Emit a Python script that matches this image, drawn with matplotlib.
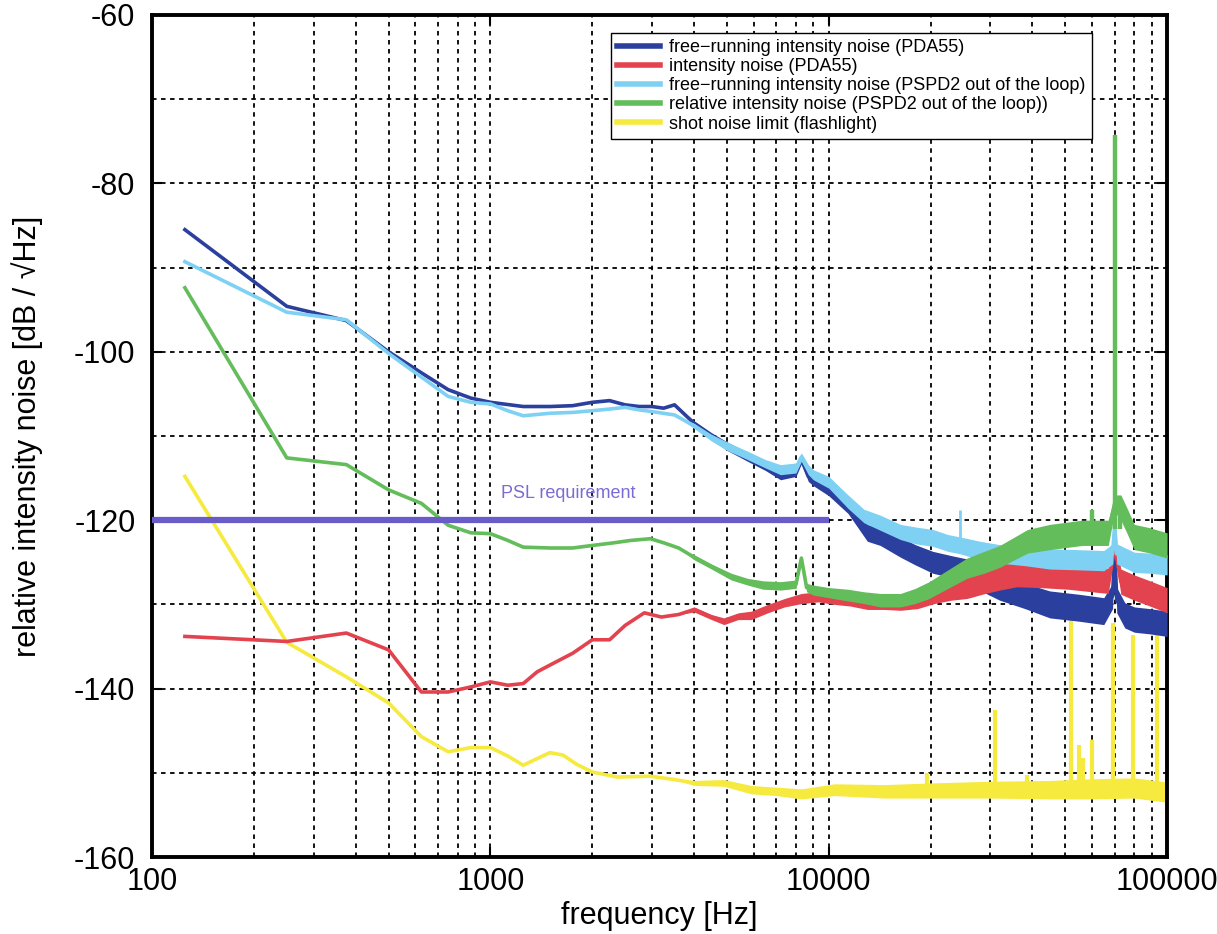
import numpy as np
import matplotlib.pyplot as plt

plt.rcParams['font.family'] = ['Liberation Sans', 'DejaVu Sans']
plt.rcParams['axes.unicode_minus'] = False

# ------------------------------
# spectra: frequency [Hz], level [dB/rtHz], half-width of the noise band [dB]
# ------------------------------
f_pda_free = [125, 250, 375, 500, 625, 750, 875, 1000, 1250, 1500, 1750, 2000, 2250, 2500, 2750,
              3000, 3250, 3500, 4000, 4500, 5000, 5750, 6500, 7200, 8000, 8300, 8700, 9000,
              10000, 11400, 13000, 14200, 16300, 18000, 20300, 23000, 25600, 28800, 32000,
              38000, 45000, 55000, 65000, 69000, 70000, 71000, 75000, 80000, 89000, 100000]
y_pda_free = [-85.5, -94.6, -96.3, -100.0, -102.5, -104.5, -105.5, -106.0, -106.5, -106.5, -106.4,
              -106.0, -105.8, -106.3, -106.5, -106.5, -106.7, -106.3, -108.5, -110.0, -111.2,
              -112.5, -113.5, -114.6, -114.2, -112.8, -114.8, -115.2, -116.3, -118.3, -121.5,
              -122.0, -123.2, -124.1, -125.0, -125.5, -126.0, -127.2, -128.0, -129.0, -130.0,
              -130.4, -130.8, -129.0, -123.5, -129.5, -131.3, -131.8, -132.0, -132.3]
w_pda_free = [0, 0, 0, 0, 0, 0, 0, 0, 0, 0, 0, 0, 0, 0, 0, 0, 0, 0, 0.3, 0.4, 0.5, 0.5, 0.6, 0.6,
              0.6, 0.5, 0.6, 0.7, 0.8, 0.9, 1.0, 1.0, 1.2, 1.2, 1.3, 1.3, 1.4, 1.4, 1.5, 1.5, 1.6,
              1.6, 1.6, 1.5, 0.5, 1.5, 1.5, 1.5, 1.5, 1.5]

f_pda_loop = [125, 250, 375, 500, 625, 750, 875, 1000, 1125, 1250, 1375, 1500, 1750, 2000, 2250,
              2500, 2850, 3200, 3600, 4000, 4500, 4900, 5400, 5900, 6600, 7400, 8300, 9300, 10400,
              11600, 13000, 14600, 16300, 18300, 20500, 23000, 25600, 29000, 32000, 36000, 42000,
              51000, 60000, 67000, 70000, 73000, 80000, 89000, 100000]
y_pda_loop = [-133.8, -134.4, -133.4, -135.4, -140.4, -140.4, -139.8, -139.2, -139.6, -139.4,
              -138.0, -137.2, -135.8, -134.2, -134.2, -132.5, -131.0, -131.5, -131.2, -130.6,
              -131.5, -132.0, -131.4, -131.3, -130.5, -129.8, -129.3, -129.1, -129.4, -129.5,
              -129.8, -129.8, -129.8, -129.5, -128.8, -128.3, -128.0, -127.3, -126.8, -126.4,
              -126.5, -126.7, -127.0, -127.2, -123.0, -127.3, -128.0, -128.7, -129.5]
w_pda_loop = [0, 0, 0, 0, 0, 0, 0, 0, 0, 0, 0, 0, 0, 0, 0, 0, 0, 0, 0, 0.3, 0.3, 0.4, 0.4, 0.5,
              0.5, 0.5, 0.6, 0.6, 0.6, 0.7, 0.8, 0.8, 0.9, 1.0, 1.1, 1.2, 1.3, 1.4, 1.5, 1.5, 1.5,
              1.5, 1.5, 1.5, 1.0, 1.5, 1.5, 1.5, 1.5]

f_pspd_free = [125, 250, 375, 500, 625, 750, 875, 1000, 1125, 1250, 1500, 1750, 2000, 2250, 2500,
               2750, 3000, 3500, 4000, 4500, 5000, 5750, 6500, 7200, 8000, 8300, 8700, 9000, 10000,
               11400, 12700, 14200, 16300, 18000, 20300, 22500, 24500, 28000, 32000, 38000, 45000,
               55000, 65000, 69000, 70000, 71000, 80000, 89000, 100000]
y_pspd_free = [-89.3, -95.3, -96.2, -100.2, -103.0, -105.3, -106.0, -106.2, -107.0, -107.6,
               -107.3, -107.2, -107.0, -106.8, -106.6, -106.9, -107.1, -107.5, -108.8, -110.2,
               -111.2, -112.3, -113.3, -114.0, -113.8, -112.5, -114.0, -114.6, -115.5, -117.8,
               -119.5, -120.3, -121.4, -121.8, -122.1, -122.7, -123.0, -123.6, -124.0, -124.3,
               -124.6, -124.7, -124.8, -124.0, -120.5, -124.0, -125.0, -125.1, -125.3]
w_pspd_free = [0, 0, 0, 0, 0, 0, 0, 0, 0, 0, 0, 0, 0, 0, 0, 0, 0, 0, 0.3, 0.4, 0.5, 0.5, 0.5, 0.6,
               0.6, 0.5, 0.6, 0.6, 0.7, 0.8, 0.8, 0.9, 0.9, 1.0, 1.0, 1.0, 1.0, 1.1, 1.1, 1.1, 1.2,
               1.2, 1.2, 1.2, 0.5, 1.2, 1.2, 1.2, 1.2]

f_pspd_rin = [125, 250, 375, 500, 625, 750, 875, 1000, 1125, 1250, 1500, 1750, 2000, 2300, 2600,
              2970, 3260, 3600, 4000, 4500, 5150, 5750, 6400, 7200, 8000, 8300, 8600, 9000, 10000,
              11400, 12700, 14200, 16300, 18000, 19800, 22500, 25600, 28800, 32000, 38700, 45000,
              56000, 62000, 67000, 70000, 73000, 76000, 80000, 89000, 100000]
y_pspd_rin = [-92.4, -112.6, -113.4, -116.4, -118.0, -120.6, -121.5, -121.6, -122.4, -123.2,
              -123.3, -123.3, -123.0, -122.7, -122.4, -122.2, -122.7, -123.3, -124.4, -125.5,
              -126.7, -127.3, -127.7, -127.8, -127.6, -124.5, -128.0, -128.3, -128.6, -128.9,
              -129.2, -129.5, -129.5, -129.0, -128.3, -127.0, -125.7, -125.0, -124.3, -122.5,
              -122.0, -121.5, -121.5, -121.5, -118.0, -118.5, -120.0, -122.0, -122.4, -123.0]
w_pspd_rin = [0, 0, 0, 0, 0, 0, 0, 0, 0, 0, 0, 0, 0, 0, 0, 0, 0, 0, 0.3, 0.3, 0.4, 0.4, 0.5, 0.5,
              0.5, 0.3, 0.5, 0.6, 0.6, 0.7, 0.7, 0.8, 0.8, 0.9, 1.0, 1.1, 1.2, 1.3, 1.3, 1.4, 1.5,
              1.5, 1.5, 1.5, 1.0, 1.5, 1.5, 1.5, 1.5, 1.5]

f_shot = [125, 250, 375, 500, 625, 750, 875, 1000, 1125, 1250, 1375, 1500, 1640, 1800, 2000, 2370,
          2970, 3500, 4000, 4900, 5900, 7000, 8300, 10400, 14600, 20000, 30000, 45000, 60000,
          80000, 100000]
y_shot = [-114.8, -134.5, -138.6, -141.7, -145.7, -147.5, -147.0, -147.0, -148.0, -149.1, -148.3,
          -147.6, -147.9, -149.0, -149.9, -150.5, -150.4, -150.8, -151.2, -151.2, -152.0, -152.2,
          -152.5, -152.0, -152.2, -152.1, -152.0, -152.0, -151.9, -151.8, -152.3]
w_shot = [0, 0, 0, 0, 0, 0, 0, 0, 0, 0, 0, 0, 0, 0, 0, 0, 0, 0, 0.3, 0.4, 0.5, 0.5, 0.6, 0.7, 0.8,
          0.9, 1.0, 1.1, 1.2, 1.2, 1.2]

# narrow lines: frequency [Hz], peak level [dB/rtHz]
shot_spike_f = [19500, 31000, 38600, 52000, 55000, 56500, 60000, 69000, 79500, 93500]
shot_spike_y = [-150.0, -142.5, -150.3, -131.3, -146.7, -148.2, -146.1, -132.2, -133.6, -133.4]
rin_spike_f = [60000, 70000, 72500]
rin_spike_y = [-118.8, -74.3, -117.5]
free_spike_f = [24500]
free_spike_y = [-118.8]

psl_f = [100, 10000]
psl_y = [-120, -120]

labels = ['free\u2212running intensity noise (PDA55)',
          'intensity noise (PDA55)',
          'free\u2212running intensity noise (PSPD2 out of the loop)',
          'relative intensity noise (PSPD2 out of the loop))',
          'shot noise limit (flashlight)']
colors = ['#2b3f9e', '#e2434f', '#7fd1f4', '#63bd5a', '#f6ea3f']


def draw_band(ax, f, y, w, color, label, z):
    f = np.array(f, dtype=float)
    y = np.array(y, dtype=float)
    w = np.array(w, dtype=float)
    ax.fill_between(f, y - w, y + w, color=color, lw=0, zorder=z)
    line, = ax.plot(f, y, color=color, lw=2.6, label=label, zorder=z)
    return line


fig = plt.figure(figsize=(12.17, 9.34), dpi=100)
ax = fig.add_axes([0.125, 0.0824, 0.834, 0.9016])

ax.plot(psl_f, psl_y, color='#6a5cc8', lw=4.5, zorder=6, solid_capstyle='butt')
ax.text(1700, -116.8, 'PSL requirement', color='#7a6cd6', fontsize=13, ha='center', va='center')

h = []
ax.vlines(shot_spike_f, -152, shot_spike_y, color=colors[4], lw=3.0, zorder=2)
h_shot = draw_band(ax, f_shot, y_shot, w_shot, colors[4], labels[4], 2)
h.append(draw_band(ax, f_pda_free, y_pda_free, w_pda_free, colors[0], labels[0], 3))
h.append(draw_band(ax, f_pda_loop, y_pda_loop, w_pda_loop, colors[1], labels[1], 3.5))
ax.vlines(free_spike_f, -123, free_spike_y, color=colors[2], lw=2.0, zorder=4)
h.append(draw_band(ax, f_pspd_free, y_pspd_free, w_pspd_free, colors[2], labels[2], 4))
ax.vlines(rin_spike_f, -121, rin_spike_y, color=colors[3], lw=3.2, zorder=5)
h.append(draw_band(ax, f_pspd_rin, y_pspd_rin, w_pspd_rin, colors[3], labels[3], 5))
h.append(h_shot)

ax.set_xscale('log')
ax.set_xlim(100, 100000)
ax.set_ylim(-160, -60)
ax.set_xticks([100, 1000, 10000, 100000])
ax.set_xticklabels(['100', '1000', '10000', '100000'])
ax.set_yticks(np.arange(-160, -59, 20))
ax.set_yticks(np.arange(-150, -60, 10), minor=True)
ax.tick_params(axis='both', which='major', direction='in', length=7, width=1.5,
               labelsize=22, top=True, right=True)
ax.tick_params(axis='x', which='major', pad=7)
ax.tick_params(axis='y', which='major', pad=12)
ax.tick_params(axis='both', which='minor', length=0)
ax.grid(True, which='both', color='black', linestyle=(0, (2.5, 2.5)), lw=1.3)
ax.set_axisbelow(True)
for s in ax.spines.values():
    s.set_linewidth(2.8)

ax.set_xlabel('frequency [Hz]', fontsize=22, labelpad=3)
ax.set_ylabel('relative intensity noise [dB / \u221aHz]', fontsize=22, labelpad=22)

leg = ax.legend(handles=h, loc='upper right', bbox_to_anchor=(0.926, 0.979), fontsize=13,
                handlelength=2.4, labelspacing=0.12, borderpad=0.35, handletextpad=0.5,
                borderaxespad=0, fancybox=False, framealpha=1, edgecolor='black')
leg.get_frame().set_linewidth(1.0)
for line in leg.get_lines():
    line.set_linewidth(4)

fig.savefig('out.png', dpi=100)
